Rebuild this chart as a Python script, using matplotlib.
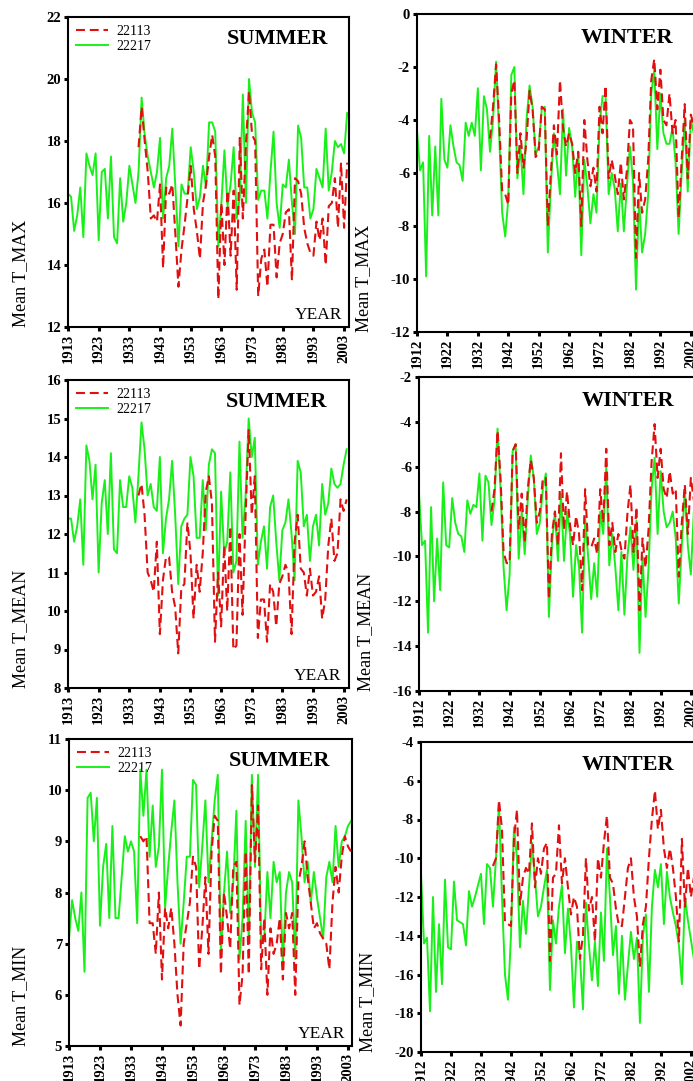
import numpy as np
import matplotlib
matplotlib.use("Agg")
import matplotlib.pyplot as plt
from matplotlib.lines import Line2D

plt.rcParams['font.family'] = ['Liberation Serif', 'DejaVu Serif']
plt.rcParams['axes.unicode_minus'] = False

# ---------------- data ----------------
years_left = np.arange(1913, 2005)     # green, summer panels
years_right = np.arange(1912, 2005)    # green, winter panels
years_red = np.arange(1936, 2005)      # red, station 22113

summer_tmax_22217 = [
    16.3, 16.2, 15.1, 15.6, 16.5, 14.9, 17.6, 17.2, 16.9, 17.6,
    14.8, 17.0, 17.1, 15.5, 17.5, 14.9, 14.7, 16.8, 15.4, 16.0,
    17.2, 16.6, 16.0, 17.0, 19.4, 18.2, 17.5, 17.0, 16.5, 17.0,
    18.1, 15.5, 16.8, 17.2, 18.4, 16.5, 14.6, 16.6, 16.3, 16.3,
    17.8, 17.0, 15.8, 16.2, 17.2, 16.5, 18.6, 18.6, 18.3, 14.6,
    16.0, 17.7, 15.9, 16.6, 17.8, 15.5, 16.2, 19.5, 16.0, 20.0,
    18.9, 18.6, 16.1, 16.4, 16.4, 15.5, 17.0, 18.3, 16.0, 15.2,
    16.6, 16.5, 17.4, 16.0, 15.0, 18.5, 18.1, 16.5, 16.5, 15.5,
    15.8, 17.1, 16.8, 16.5, 18.4, 16.4, 17.0, 18.0, 17.8, 17.9,
    17.6, 18.9]
summer_tmax_22113 = [
    17.8, 19.1, 18.0, 17.0, 15.5, 15.6, 15.4, 16.6, 13.9, 16.5,
    16.3, 16.6, 15.0, 13.3, 14.5, 15.3, 16.2, 17.2, 15.8, 15.1,
    14.2, 16.0, 16.6, 17.5, 18.2, 17.5, 12.9, 16.0, 14.0, 16.4,
    14.3, 16.4, 13.2, 18.1, 15.5, 17.9, 19.6, 18.2, 18.0, 13.0,
    14.2, 14.5, 13.3, 15.3, 15.3, 13.6, 14.7, 15.0, 15.7, 15.8,
    13.5, 16.8, 16.7, 16.3, 15.2, 14.7, 14.4, 14.3, 15.4, 14.8,
    15.5, 14.0, 15.9, 16.0, 16.8, 15.2, 17.3, 15.2, 17.3]

summer_tmean_22217 = [
    12.4, 12.4, 11.8, 12.2, 12.9, 11.2, 14.3, 13.9, 12.9, 13.8,
    11.0, 12.8, 13.4, 12.0, 14.1, 11.6, 11.5, 13.4, 12.7, 12.7,
    13.5, 13.2, 12.3, 13.5, 14.9, 14.2, 13.0, 13.3, 12.7, 12.6,
    14.0, 11.5, 12.4, 12.9, 13.9, 12.5, 10.7, 12.2, 12.4, 12.5,
    14.0, 13.5, 11.9, 11.9, 13.4, 12.1, 13.8, 14.2, 14.1, 10.4,
    13.1, 11.5, 11.8, 13.6, 11.0, 11.3, 14.4, 11.9, 13.0, 15.0,
    14.0, 14.5, 11.2, 11.8, 12.2, 11.1, 12.7, 13.0, 11.8, 10.8,
    12.1, 12.3, 12.9, 12.0, 10.8, 13.9, 13.6, 12.2, 12.5, 11.3,
    12.2, 12.5, 11.7, 13.3, 12.5, 12.8, 13.7, 13.3, 13.2, 13.3,
    13.8, 14.2]
summer_tmean_22113 = [
    13.0, 13.3, 12.5, 11.0, 10.8, 10.5, 11.8, 9.4, 10.8, 11.4,
    11.4, 10.5, 10.1, 8.9, 10.6, 10.7, 12.3, 11.5, 9.8, 11.2,
    10.5, 11.5, 13.1, 13.5, 12.8, 9.2, 11.0, 9.6, 11.7, 10.0,
    12.2, 9.0, 9.1, 12.0, 9.9, 12.5, 14.7, 12.5, 13.5, 9.3,
    10.3, 10.3, 9.2, 10.7, 10.5, 9.6, 10.7, 10.9, 11.2, 11.0,
    9.4, 11.8, 12.5, 11.1, 11.0, 10.4, 11.1, 10.4, 10.5, 10.9,
    9.8, 10.3, 11.7, 12.4, 11.3, 11.5, 12.9, 12.6, 12.9]

summer_tmin_22217 = [
    7.1, 7.85, 7.5, 7.25, 8.0, 6.45, 9.85, 9.95, 9.0, 9.85,
    7.35, 8.5, 8.95, 7.5, 9.3, 7.5, 7.5, 8.3, 9.1, 8.8,
    9.0, 8.8, 7.4, 10.4, 9.5, 10.4, 8.7, 9.7, 8.5, 8.9,
    10.4, 7.7, 8.5, 9.2, 9.8, 8.2, 7.0, 7.8, 8.7, 8.7,
    10.2, 10.1, 8.1, 8.9, 9.8, 8.2, 9.0, 9.8, 10.3, 6.8,
    8.0, 8.8, 7.6, 8.2, 9.6, 6.7, 7.5, 9.4, 7.0, 10.3,
    8.5, 10.3, 7.0, 7.1, 8.4, 7.5, 8.6, 8.2, 8.4, 6.6,
    8.0, 8.4, 8.2, 6.7, 9.8, 9.1, 8.2, 8.6, 7.8, 8.4,
    7.9, 7.5, 7.1, 8.3, 8.6, 8.2, 9.3, 8.5, 9.0, 9.1,
    9.3, 9.4]
summer_tmin_22113 = [
    9.1, 9.0, 9.1, 7.4, 7.4, 6.8, 8.0, 6.3, 7.7, 7.3,
    7.7, 7.0, 6.0, 5.4, 7.0, 7.4, 7.8, 8.7, 8.5, 6.5,
    7.3, 8.3, 6.8, 8.8, 9.5, 9.4, 6.4, 8.0, 7.5, 6.9,
    8.5, 8.6, 5.8, 6.4, 8.8, 6.4, 10.1, 8.6, 9.7, 6.5,
    7.5, 6.0, 7.3, 6.8, 7.0, 7.5, 6.3, 7.6, 7.3, 7.6,
    6.0, 8.2, 8.5, 9.0, 8.3, 7.8, 7.3, 7.4, 7.2, 7.1,
    7.0, 6.5, 7.8, 8.5, 8.0, 8.7, 9.1, 8.9, 8.8]

winter_tmax_22217 = [
    -4.4, -5.9, -5.6, -9.9, -4.6, -7.6, -5.0, -7.6, -3.2, -5.5,
    -5.8, -4.2, -5.0, -5.6, -5.7, -6.3, -4.1, -4.6, -4.1, -4.6,
    -2.8, -5.9, -3.1, -3.6, -5.2, -4.0, -1.8, -4.5, -7.5, -8.4,
    -7.0, -2.3, -2.0, -6.2, -5.0, -6.8, -4.0, -2.7, -3.5, -5.3,
    -5.0, -3.6, -3.5, -9.0, -6.5, -4.5, -5.6, -6.8, -3.6, -6.1,
    -4.3, -5.0, -6.9, -5.2, -9.1, -5.5, -6.5, -7.9, -6.8, -7.5,
    -4.2, -3.1, -3.1, -6.8, -6.0, -6.6, -8.2, -6.4, -8.2, -6.5,
    -5.0, -6.3, -10.4, -7.0, -9.0, -8.3, -6.8, -3.0, -2.1, -5.1,
    -3.0, -4.5, -4.9, -4.9, -4.3, -5.6, -8.3, -6.0, -4.0, -6.7,
    -4.0, -4.5, -6.0]
winter_tmax_22113 = [
    -4.7, -3.5, -1.9, -4.0, -6.7, -6.8, -7.2, -3.0, -2.5, -6.0,
    -4.5, -5.8, -4.8, -2.9, -3.6, -5.4, -5.2, -3.5, -3.6, -8.0,
    -6.0, -4.2, -5.3, -2.5, -4.3, -5.0, -4.5, -4.9, -6.0, -5.2,
    -8.0, -4.0, -5.5, -6.5, -5.8, -6.7, -3.5, -4.5, -2.7, -6.2,
    -5.5, -6.1, -6.8, -5.6, -7.0, -5.9, -4.0, -4.2, -9.2, -6.0,
    -7.5, -7.0, -5.5, -2.5, -1.7, -3.6, -2.1, -4.0, -4.2, -3.0,
    -4.5, -4.0, -7.7, -5.5, -3.4, -6.2, -3.8, -4.2, -5.4]

winter_tmean_22217 = [
    -7.2, -9.5, -9.3, -13.4, -7.8, -12.0, -9.2, -11.5, -6.7, -9.5,
    -9.6, -7.4, -8.5, -9.0, -9.1, -9.8, -7.5, -8.1, -7.7, -7.8,
    -6.3, -9.3, -6.4, -6.7, -8.6, -7.5, -4.3, -7.0, -10.5, -12.4,
    -10.8, -5.3, -5.0, -10.1, -8.0, -9.9, -7.5, -5.5, -6.5, -9.0,
    -8.5, -7.0, -6.3, -12.7, -9.5, -8.0, -10.2, -7.2, -10.2, -8.0,
    -9.0, -11.8, -9.5, -10.5, -13.4, -8.3, -10.0, -11.9, -10.3, -11.8,
    -8.0, -9.0, -6.0, -10.4, -9.0, -10.5, -12.4, -9.8, -12.6, -10.0,
    -8.7, -10.6, -8.4, -14.3, -10.0, -12.7, -10.5, -7.0, -5.6, -9.0,
    -6.2, -8.0, -8.7, -8.5, -8.0, -9.2, -12.1, -9.5, -7.0, -9.5,
    -10.8, -8.0, -9.0]
winter_tmean_22113 = [
    -8.0, -7.0, -4.4, -6.5, -9.8, -10.3, -10.3, -5.3, -5.0, -8.8,
    -7.2, -9.4, -7.0, -5.7, -6.5, -8.5, -8.0, -6.5, -6.5, -11.9,
    -9.0, -8.0, -9.5, -5.4, -8.8, -7.1, -8.6, -9.5, -8.2, -9.0,
    -11.5, -7.0, -9.5, -9.6, -9.2, -9.9, -7.0, -8.5, -5.2, -9.5,
    -8.5, -9.8, -9.0, -9.7, -10.1, -8.1, -6.8, -9.8, -7.8, -12.4,
    -9.2, -10.5, -8.8, -5.8, -4.1, -6.5, -5.2, -7.0, -7.4, -6.2,
    -7.2, -7.0, -10.9, -8.5, -6.8, -9.0, -6.5, -7.5, -8.0]

winter_tmin_22217 = [
    -10.8, -14.4, -14.1, -17.9, -12.0, -16.9, -13.4, -16.5, -11.1, -14.6,
    -14.7, -11.2, -13.2, -13.3, -13.4, -14.5, -11.7, -12.5, -12.0, -11.4,
    -10.8, -13.4, -10.3, -10.5, -12.5, -10.0, -7.2, -12.0, -16.0, -17.3,
    -14.0, -8.4, -10.0, -14.6, -12.2, -13.9, -11.5, -9.2, -11.0, -13.0,
    -12.5, -11.5, -10.6, -16.8, -13.2, -14.4, -12.5, -11.4, -14.9, -12.6,
    -14.5, -17.7, -14.3, -15.0, -17.8, -12.3, -14.5, -16.3, -14.3, -16.6,
    -12.8, -15.3, -9.5, -12.0, -15.0, -13.5, -17.0, -14.0, -17.3, -15.5,
    -13.8, -15.2, -14.1, -18.5, -14.0, -12.9, -16.9, -12.5, -10.6, -11.5,
    -10.3, -13.4, -10.7, -12.0, -12.8, -13.5, -14.5, -16.5, -12.0, -13.2,
    -14.2, -15.2, -14.0]
winter_tmin_22113 = [
    -10.4, -10.0, -7.0, -8.5, -13.3, -13.4, -13.5, -9.0, -7.5, -12.4,
    -11.0, -10.5, -10.8, -8.2, -11.5, -10.0, -10.8, -9.5, -9.2, -15.3,
    -11.0, -10.8, -8.3, -11.3, -10.0, -11.5, -12.9, -12.0, -12.5, -15.2,
    -14.0, -10.0, -12.7, -12.0, -14.3, -10.0, -11.0, -9.2, -7.8, -11.0,
    -11.3, -12.6, -13.5, -13.5, -12.0, -10.5, -10.0, -12.0, -13.0, -15.6,
    -13.4, -12.5, -10.0, -8.0, -6.5, -8.5, -7.5, -9.5, -10.5, -9.5,
    -10.5, -12.0, -14.3, -9.0, -12.5, -10.5, -12.0, -11.0, -12.5]

station_labels = ["22113", "22217"]
ylabels = ["Mean T_MAX", "Mean T_MEAN", "Mean T_MIN"]

# ---------------- layout ----------------
W, H = 693, 1081
fig = plt.figure(figsize=(W / 100, H / 100), dpi=100)

GREEN = "#19f019"
RED = "#e01010"


def add_ax(l, t, r, b):
    return fig.add_axes([l / W, 1 - b / H, (r - l) / W, (b - t) / H])


panels = [
    # (box, xlim, xticks start, ylim, ystep, green years, green, red, season, ylabel, label_right_px, show YEAR, legend)
    dict(box=(68, 17, 349, 327), xlim=(1913, 2004.6), x0=1913, ylim=(12, 22), ystep=2,
         gy=years_left, g=summer_tmax_22217, r=summer_tmax_22113, season="SUMMER",
         ylabel=ylabels[0], lab_px=29, year=True),
    dict(box=(417, 14, 699, 332), xlim=(1912, 2004.7), x0=1912, ylim=(-12, 0), ystep=2,
         gy=years_right, g=winter_tmax_22217, r=winter_tmax_22113, season="WINTER",
         ylabel=ylabels[0], lab_px=372, year=False),
    dict(box=(68, 380, 348.5, 688), xlim=(1913, 2004.6), x0=1913, ylim=(8, 16), ystep=1,
         gy=years_left, g=summer_tmean_22217, r=summer_tmean_22113, season="SUMMER",
         ylabel=ylabels[1], lab_px=29, year=True),
    dict(box=(419, 377, 699, 691), xlim=(1912, 2004.7), x0=1912, ylim=(-16, -2), ystep=2,
         gy=years_right, g=winter_tmean_22217, r=winter_tmean_22113, season="WINTER",
         ylabel=ylabels[1], lab_px=374, year=False),
    dict(box=(69, 739, 352, 1046), xlim=(1913, 2004.3), x0=1913, ylim=(5, 11), ystep=1,
         gy=years_left, g=summer_tmin_22217, r=summer_tmin_22113, season="SUMMER",
         ylabel=ylabels[2], lab_px=29, year=True),
    dict(box=(421, 742, 699, 1052), xlim=(1912, 2004.7), x0=1912, ylim=(-20, -4), ystep=2,
         gy=years_right, g=winter_tmin_22217, r=winter_tmin_22113, season="WINTER",
         ylabel=ylabels[2], lab_px=376, year=False),
]

for p in panels:
    l, t, r, b = p["box"]
    ax = add_ax(l, t, r, b)
    ax.plot(p["gy"], p["g"], color=GREEN, lw=1.4, zorder=2)
    ax.plot(years_red, p["r"], color=RED, lw=1.5, dashes=(4.3, 2.3), zorder=3)
    ax.set_xlim(*p["xlim"])
    ax.set_ylim(*p["ylim"])
    ax.set_xticks(np.arange(p["x0"], p["xlim"][1], 10))
    ax.set_yticks(np.arange(p["ylim"][0], p["ylim"][1] + 0.01, p["ystep"]))
    ax.tick_params(axis="both", direction="out", length=3, width=2.2, pad=2,
                   labelsize=10.5)
    for lab in ax.get_xticklabels():
        lab.set_rotation(90)
        lab.set_fontweight("bold")
    for lab in ax.get_yticklabels():
        lab.set_fontweight("bold")
    for s in ax.spines.values():
        s.set_linewidth(1.5)
    ax.text(0.745, 0.912 if p["season"] == "SUMMER" else 0.909, p["season"],
            transform=ax.transAxes, ha="center", va="baseline",
            fontsize=16, fontweight="bold")
    ax.set_ylabel(p["ylabel"], fontsize=13, loc="bottom")
    ax.yaxis.set_label_coords((p["lab_px"] - l) / (r - l), 0)
    if p["year"]:
        ax.text(0.975, 0.026, "YEAR", transform=ax.transAxes, ha="right",
                va="baseline", fontsize=12.5)
        handles = [Line2D([], [], color=RED, lw=1.5, dashes=(4.3, 2.3)),
                   Line2D([], [], color=GREEN, lw=1.4)]
        ax.legend(handles, station_labels, loc="upper left", bbox_to_anchor=(0, 1),
                  borderaxespad=0, borderpad=0.6, frameon=False, fontsize=10,
                  handlelength=2.3, handletextpad=0.6, labelspacing=0.1)

fig.savefig("out.png", dpi=100)
